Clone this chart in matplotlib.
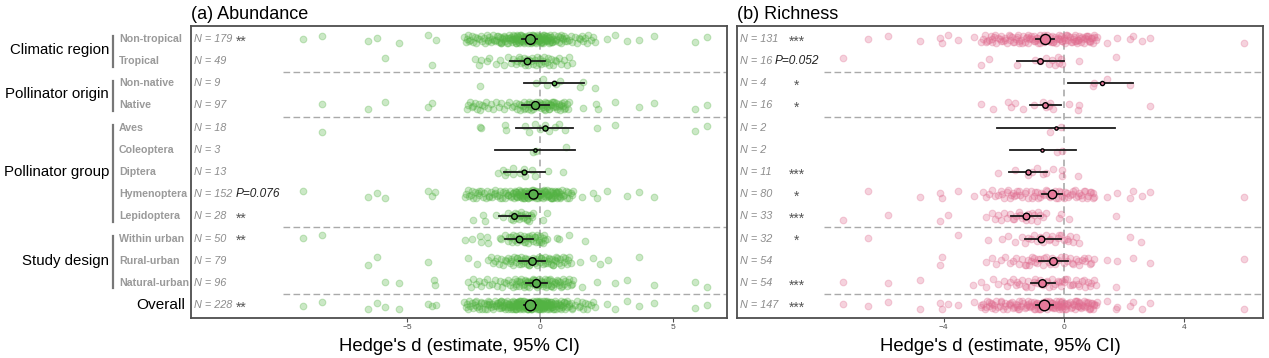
import matplotlib.pyplot as plt
import matplotlib.transforms as mtransforms
import numpy as np

plt.rcParams['font.family'] = ['Liberation Sans', 'DejaVu Sans']

# ---------------------------------------------------------------------------
# Row labels
# ---------------------------------------------------------------------------
groups = ['Climatic region', 'Pollinator origin', 'Pollinator group', 'Study design']
group_sizes = [2, 2, 5, 3]
moderators = ['Non-tropical', 'Tropical', 'Non-native', 'Native', 'Aves', 'Coleoptera',
              'Diptera', 'Hymenoptera', 'Lepidoptera', 'Within urban', 'Rural-urban',
              'Natural-urban', 'Overall']

# ---------------------------------------------------------------------------
# (a) Abundance - individual effect sizes
# ---------------------------------------------------------------------------
ab_nontrop = [-8.92, -8.21, -6.48, -6.14, -5.30, -4.20, -3.91,
              -2.85, -2.8, -2.76, -2.72, -2.68, -2.62, -2.55, -2.5, -2.44, -2.4, -2.35, -2.3, -2.22,
              -2.18, -2.12, -2.05, -2.0,
              -1.95, -1.9, -1.86, -1.8, -1.75, -1.7, -1.66, -1.6, -1.55, -1.5, -1.46, -1.42, -1.38,
              -1.34, -1.3, -1.26, -1.22, -1.18, -1.14, -1.1, -1.06, -1.02, -1.0, -1.97, -1.72, -1.58,
              -1.48, -1.36, -1.24, -1.12, -1.04,
              -0.98, -0.95, -0.92, -0.9, -0.87, -0.85, -0.82, -0.8, -0.78, -0.75, -0.72, -0.7, -0.68,
              -0.65, -0.62, -0.6, -0.58, -0.55, -0.52, -0.5, -0.48, -0.45, -0.42, -0.4, -0.38, -0.35,
              -0.32, -0.3, -0.28, -0.25, -0.22, -0.2, -0.18, -0.15, -0.12, -0.1, -0.08, -0.05, -0.02,
              -0.9, -0.7, -0.55, -0.4, -0.3, -0.2, -0.1, -0.06,
              0.0, 0.03, 0.06, 0.1, 0.13, 0.16, 0.2, 0.23, 0.26, 0.3, 0.33, 0.36, 0.4, 0.43, 0.46, 0.5,
              0.54, 0.58, 0.62, 0.66, 0.7, 0.74, 0.78, 0.82, 0.86, 0.9, 0.94, 0.98, 0.05, 0.15, 0.25,
              0.35, 0.45, 0.6, 0.8,
              1.02, 1.08, 1.15, 1.22, 1.3, 1.38, 1.45, 1.5, 1.57, 1.6, 1.68, 1.75, 1.8, 1.92, 2.0,
              2.07, 2.51, 2.82, 3.26, 3.73, 4.29, 5.83, 6.29,
              -1.45, -1.2, -0.95, -0.85, -0.65, -0.45, -0.35, -0.25, -0.15, -0.05, 0.02, 0.08, 0.12,
              0.18, 0.22, 0.28, 0.38, -0.6, -0.8]
ab_trop = [-5.83, -4.05, -2.44, -2.3, -2.2, -2.0, -1.9, -1.65, -1.5, -1.35, -1.2, -1.1, -1.0,
           -0.9, -0.85, -0.8, -0.7, -0.65, -0.6, -0.55, -0.5, -0.45, -0.4, -0.35, -0.3, -0.25, -0.2,
           -0.15, -0.1, -0.05, 0.0, 0.05, 0.1, 0.15, 0.2, 0.25, 0.3, 0.35, 0.4, 0.5, 0.55, 0.6, 0.7,
           0.8, 0.9, 1.0, 1.1, 1.19, -0.75]
ab_nonnative = [-2.26, -0.15, 0.1, 0.25, 0.6, 0.75, 1.5, 1.6, 2.07]
ab_native = [-8.21, -6.48, -5.83, -4.20, -4.07,
             -2.75, -2.7, -2.62, -2.55, -2.5, -2.45, -2.38, -2.3, -2.25, -2.18, -2.1, -2.02, -1.95,
             -1.85, -1.75, -1.65, -1.55, -1.45, -1.35, -1.25, -1.15, -1.05,
             -0.98, -0.92, -0.86, -0.8, -0.75, -0.7, -0.65, -0.6, -0.55, -0.5, -0.45, -0.4, -0.35,
             -0.3, -0.25, -0.2, -0.15, -0.1, -0.05, 0.0, -0.62, -0.42, -0.32, -0.22, -0.12, -0.02,
             0.05, 0.1, 0.15, 0.2, 0.25, 0.3, 0.35, 0.4, 0.45, 0.5, 0.55, 0.6, 0.65, 0.7, 0.75, 0.8,
             0.85, 0.9, 0.95, 1.0, 1.05, 1.1, 0.12, 0.22, 0.32, 0.42, 0.52, 0.62, 0.72, 0.82, 0.92,
             0.38, 0.18, 0.08, 0.28, 0.48,
             1.60, 2.1, 2.19, 2.82, 3.73, 4.29, 5.83, 6.29]
ab_aves = [-8.21, -2.26, -2.2, -1.32, -1.26, -0.56, -0.4, -0.2, 0.0, 0.19, 0.35, 0.56, 0.7, 0.94,
           2.16, 2.82, 5.83, 6.29]
ab_coleo = [-0.26, -0.15, 0.97]
ab_dipt = [-1.58, -1.39, -1.32, -1.24, -1.03, -1.0, -0.75, -0.6, -0.56, -0.31, -0.2, 0.31, 0.88]
ab_hymen = [-8.92, -6.48, -6.14, -5.83, -4.2, -4.07, -3.95,
            -2.82, -2.78, -2.72, -2.66, -2.6, -2.55, -2.5, -2.45, -2.4, -2.34, -2.28, -2.22, -2.16,
            -2.1, -2.04, -1.98, -1.92, -1.86, -1.8, -1.74, -1.68, -1.62, -1.56, -1.5, -1.44, -1.38,
            -1.32, -1.26, -1.2, -1.14, -1.08, -1.02,
            -0.98, -0.95, -0.92, -0.89, -0.86, -0.83, -0.8, -0.77, -0.74, -0.71, -0.68, -0.65,
            -0.62, -0.59, -0.56, -0.53, -0.5, -0.47, -0.44, -0.41, -0.38, -0.35, -0.32, -0.29,
            -0.26, -0.23, -0.2, -0.17, -0.14, -0.11, -0.08, -0.05, -0.02,
            0.01, 0.04, 0.07, 0.1, 0.13, 0.16, 0.19, 0.22, 0.25, 0.28, 0.31, 0.34, 0.37, 0.4, 0.43,
            0.46, 0.49, 0.52, 0.55, 0.58, 0.61, 0.64, 0.67, 0.7, 0.73, 0.76, 0.8, 0.84, 0.88, 0.92,
            0.96, 1.0, 1.05, 1.1, 1.15, 1.2, 1.25,
            -1.9, -1.7, -1.5, -1.3, -1.1, -0.9, -0.7, -0.5, -0.3, -0.1, 0.0, 0.2, 0.4, 0.6, -0.6,
            -0.4, -0.2, -0.15, -0.25, -0.35, -0.45, -0.55, -0.65, -0.75, -0.85, 0.05, 0.15, 0.3,
            0.35, 0.45, 0.5, 0.65, 0.75, -1.0, -1.2, -2.3,
            1.57, 2.0, 2.13, 2.51, 3.26, 3.73, 4.29]
ab_lepid = [-2.53, -2.15, -2.07, -1.65, -1.38, -1.2, -1.1, -1.05, -1.0, -0.95, -0.9, -0.85, -0.8,
            -0.75, -0.7, -0.65, -0.6, -0.55, -0.5, -0.45, -0.4, -0.35, -0.3, -0.25, -0.5, -0.7,
            0.13, 0.25]
ab_within = [-8.92, -8.21, -2.82, -2.57, -2.26, -2.2, -2.0, -1.95, -1.5, -1.45, -1.3, -1.2, -1.1,
             -1.05, -1.0, -0.95, -0.9, -0.85, -0.8, -0.75, -0.7, -0.65, -0.6, -0.55, -0.5, -0.45,
             -0.4, -0.35, -0.3, -0.25, -0.2, -0.15, -0.1, -0.05, 0.0, 0.05, 0.1, 0.15, 0.2, 0.25,
             -0.4, -0.6, -0.2, 0.1, 0.63, 0.7, 1.10, 1.69, -1.15, -0.05]
ab_rural = [-6.48, -6.14, -4.2, -2.69, -2.38,
            -1.94, -1.85, -1.78, -1.7, -1.62, -1.55, -1.48, -1.4, -1.33, -1.26, -1.2, -1.14, -1.08,
            -1.02, -0.96, -0.9, -0.85, -0.8, -0.75, -0.7, -0.65, -0.6, -0.55, -0.5, -0.45, -0.4,
            -0.35, -0.3, -0.25, -0.2, -0.15, -0.1, -0.05, 0.0, 0.05, 0.1, 0.15, 0.2, 0.25, 0.3,
            0.35, 0.4, 0.45, 0.5, 0.55, 0.6, 0.65, 0.7, 0.75, 0.8, 0.85, 0.9, 0.95, 1.0, 1.05, 1.1,
            1.15, -1.1, -0.88, -0.72, -0.58, -0.42, -0.28, -0.12, 0.02, 0.18, 0.32, 0.48, 0.62,
            1.5, 2.0, 2.26, 2.57, 3.73]
ab_natural = [-5.83, -5.30, -4.0, -3.95,
              -2.69, -2.6, -2.5, -2.4, -2.3, -2.2, -2.1, -2.0, -1.9, -1.8, -1.7, -1.6, -1.5, -1.42,
              -1.35, -1.28, -1.2, -1.13, -1.06, -1.0,
              -0.95, -0.9, -0.85, -0.8, -0.75, -0.7, -0.65, -0.6, -0.55, -0.5, -0.45, -0.4, -0.35,
              -0.3, -0.25, -0.2, -0.15, -0.1, -0.05, 0.0,
              0.05, 0.1, 0.15, 0.2, 0.25, 0.3, 0.35, 0.4, 0.45, 0.5, 0.55, 0.6, 0.65, 0.7, 0.75, 0.8,
              0.85, 0.9, 0.95, 1.0, 1.05, 1.1, 1.15, 1.2, 1.25,
              -0.92, -0.78, -0.62, -0.48, -0.32, -0.18, -0.08, 0.08, 0.22, 0.38, 0.52, 0.68, 0.82,
              -0.42, -0.28, -0.12, 0.12, 0.28, 0.42, -0.58,
              1.57, 2.13, 2.82, 3.26, 4.29, 5.83, 6.29]
# overall = every study, i.e. both climatic regions together
ab_overall = ab_nontrop + ab_trop

ab_est = [-0.38, -0.48, 0.53, -0.19, 0.19, -0.19, -0.59, -0.25, -0.96, -0.80, -0.31, -0.15, -0.38]
ab_lo = [-0.66, -1.13, -0.60, -0.69, -0.90, -1.69, -1.35, -0.54, -1.54, -1.32, -0.78, -0.53, -0.62]
ab_hi = [-0.12, 0.19, 1.67, 0.35, 1.25, 1.30, 0.19, 0.03, -0.38, -0.28, 0.19, 0.25, -0.14]
ab_n = [179, 49, 9, 97, 18, 3, 13, 152, 28, 50, 79, 96, 228]
ab_sig = ['**', '', '', '', '', '', '', 'P=0.076', '**', '**', '', '', '**']

# ---------------------------------------------------------------------------
# (b) Richness
# ---------------------------------------------------------------------------
ri_nontrop = [-6.52, -5.84, -4.77, -4.12, -4.06, -3.84, -3.53, -2.98,
              -2.74, -2.68, -2.62, -2.56, -2.5, -2.44, -2.38, -2.32, -2.26, -2.2, -2.14, -2.08,
              -2.02, -1.96, -1.9, -1.84, -1.78, -1.72, -1.66, -1.6, -1.54, -1.48, -1.42, -1.36,
              -1.3, -1.24, -1.18, -1.12, -1.06, -1.0,
              -0.95, -0.9, -0.85, -0.8, -0.75, -0.7, -0.65, -0.6, -0.55, -0.5, -0.45, -0.4, -0.35,
              -0.3, -0.25, -0.2, -0.15, -0.1, -0.05, 0.0,
              0.05, 0.1, 0.15, 0.2, 0.25, 0.3, 0.35, 0.4, 0.45, 0.5, 0.55, 0.6, 0.65, 0.7, 0.75, 0.8,
              0.85, 0.9, 0.95, 1.0, 1.05, 1.1,
              -2.6, -2.4, -2.3, -2.1, -1.95, -1.8, -1.7, -1.55, -1.4, -1.25, -1.15, -1.08, -0.98,
              -0.88, -0.78, -0.68, -0.58, -0.48, -0.38, -0.28, -0.18, -0.08, 0.02, 0.12, 0.22,
              0.32, 0.42, 0.52, 0.62, 0.72, 0.82, 0.92, -1.5, -1.2, -0.92, -0.62, -0.42, -0.12,
              0.08, 0.38, 0.48, 0.78, 0.88, 1.0,
              1.42, 1.75, 2.19, 2.30, 2.58, 2.86, 5.98]
ri_trop = [-7.35, -2.74, -2.49, -1.57, -0.95, -0.8, -0.6, -0.5, -0.4, -0.3, -0.2, -0.15, -0.1,
           -0.05, 0.51, 1.72]
ri_nonnative = [0.95, 1.0, 1.42, 2.19]
ri_native = [-2.74, -2.37, -1.85, -1.75, -1.62, -1.35, -1.0, -0.7, -0.6, -0.5, -0.45, -0.35, 0.17,
             0.45, 0.5, 2.86]
ri_aves = [-0.45, -0.1]
ri_coleo = [-0.24, -0.08]
ri_dipt = [-2.18, -1.63, -1.2, -1.05, -0.9, -0.7, -0.6, -0.35, -0.08, -0.05, 0.45]
ri_hymen = [-6.52, -4.77, -4.12, -4.06, -3.53, -2.98,
            -2.7, -2.6, -2.5, -2.4, -2.3, -2.2, -2.1, -2.0, -1.9, -1.8, -1.7, -1.6, -1.5, -1.4,
            -1.3, -1.2, -1.1, -1.0, -0.9, -0.8, -0.7, -0.6, -0.5, -0.4, -0.3, -0.2, -0.1, 0.0, 0.1,
            0.2, 0.3, 0.4, 0.5, 0.6, 0.7, 0.8, 0.9, 1.0,
            -2.05, -1.85, -1.65, -1.45, -1.25, -1.05, -0.95, -0.85, -0.75, -0.65, -0.55, -0.45,
            -0.35, -0.25, -0.15, -0.05, 0.05, 0.15, 0.25, 0.35, 0.45, 0.55, 0.65, 0.75, 0.85, 0.95,
            0.98, -1.75, -1.55,
            1.42, 1.75, 2.19, 2.30, 2.58, 2.86, 5.98]
ri_lepid = [-7.35, -5.84, -4.12, -3.84, -2.59, -2.4, -2.3, -2.2, -2.1, -2.0, -1.9, -1.8, -1.7,
            -1.6, -1.5, -1.4, -1.3, -1.2, -1.1, -1.0, -0.9, -0.8, -0.7, -0.6, -1.65, -1.45, -1.25,
            -1.05, -0.16, -0.1, 0.17, 1.72, -0.85]
ri_within = [-6.52, -3.53, -2.51, -2.07, -1.85, -1.63, -1.4, -1.3, -1.2, -1.1, -1.0, -0.9, -0.8,
             -0.7, -0.6, -0.5, -0.4, -0.3, -0.2, -0.1, 0.0, 0.1, 0.2, 0.3, 0.4, 0.5, -0.75, -0.45,
             -0.15, 0.15, 2.19, 2.56]
ri_rural = [-4.12, -4.06, -2.6,
            -2.4, -2.25, -2.1, -1.95, -1.8, -1.7, -1.6, -1.5, -1.4, -1.3, -1.2, -1.1, -1.0, -0.9,
            -0.8, -0.7, -0.6, -0.5, -0.4, -0.3, -0.2, -0.1, 0.0, 0.1, 0.2, 0.3, 0.4, 0.5, 0.6, 0.7,
            0.8, 0.9, 1.0, -1.25, -1.05, -0.95, -0.65, -0.45, -0.25, 0.05, 0.25, 0.45, 0.65, 0.85,
            -0.85, -1.15,
            1.42, 1.75, 2.30, 2.86, 5.98]
ri_natural = [-7.35, -5.84, -4.77, -3.01,
              -2.74, -2.6, -2.37, -2.2, -2.0, -1.9, -1.8, -1.7, -1.6, -1.5, -1.4, -1.3, -1.2, -1.1,
              -1.0, -0.9, -0.8, -0.7, -0.6, -0.5, -0.4, -0.3, -0.2, -0.1, 0.0, 0.1, 0.2, 0.3, 0.4,
              0.5, 0.6, 0.7, 0.8, 0.9, 1.0, 1.05, -1.55, -1.25, -0.95, -0.75, -0.55, -0.35, -0.15,
              0.05, 0.25, 0.45, 0.65, 0.85, -0.05,
              1.72]
ri_overall = ri_nontrop + ri_trop

ri_est = [-0.63, -0.79, 1.25, -0.63, -0.28, -0.74, -1.18, -0.41, -1.27, -0.76, -0.35, -0.74, -0.65]
ri_lo = [-0.94, -1.57, 0.14, -1.13, -2.24, -1.79, -1.82, -0.74, -1.76, -1.30, -0.83, -1.10, -0.94]
ri_hi = [-0.32, 0.0, 2.30, -0.11, 1.69, 0.39, -0.55, -0.06, -0.76, -0.11, 0.14, -0.30, -0.35]
ri_n = [131, 16, 4, 16, 2, 2, 11, 80, 33, 32, 54, 54, 147]
ri_sig = ['***', 'P=0.052', '*', '*', '', '', '***', '*', '***', '*', '', '***', '***']

ab_points = [ab_nontrop, ab_trop, ab_nonnative, ab_native, ab_aves, ab_coleo, ab_dipt, ab_hymen,
             ab_lepid, ab_within, ab_rural, ab_natural, ab_overall]
ri_points = [ri_nontrop, ri_trop, ri_nonnative, ri_native, ri_aves, ri_coleo, ri_dipt, ri_hymen,
             ri_lepid, ri_within, ri_rural, ri_natural, ri_overall]

# fixed vertical jitter pattern (row units)
JIT = 0.72 * np.array([0.02, -0.19, 0.15, -0.08, 0.24, -0.23, 0.09, -0.14, 0.19, -0.03, -0.25,
                       0.12, 0.05, -0.17, 0.22, -0.11, 0.27, -0.06])


def draw_panel(ax, points, est, lo, hi, ns, sig, col, mcol, xlim, ticks, sep_x0, sig_x, sig_ha,
               title):
    nrow = len(moderators)
    ax.set_xlim(*xlim)
    ax.set_ylim(nrow - 0.415, -0.586)
    ax.axvline(0, color='#aaaaaa', lw=1.2, ls=(0, (4, 3)), zorder=1)
    # separators between moderator groups
    edges = np.cumsum(group_sizes)
    for e in edges:
        ax.plot([sep_x0, xlim[1] + 1], [e - 0.5, e - 0.5], color='#aaaaaa', lw=1.0,
                ls=(0, (4.8, 2.4)), zorder=1, clip_on=True)

    nmin, nmax = min(ns), max(ns)
    tr = mtransforms.blended_transform_factory(ax.transAxes, ax.transData)
    for i, vals in enumerate(points):
        jit = np.resize(np.roll(JIT, 5 * i), len(vals))
        ax.scatter(vals, i + jit, s=23, color=col, edgecolors=col, linewidths=0.8, alpha=0.3,
                   zorder=2)
        ax.plot([lo[i], hi[i]], [i, i], color='#1a1a1a', lw=1.3, zorder=3)
        d = 3.3 + 7.2 * np.sqrt((ns[i] - nmin) / (nmax - nmin))
        ax.plot(est[i], i, 'o', ms=d * 0.72, mfc=mcol, mec='black', mew=1.0, zorder=4)
        ax.text(0.006, i, f'N = {ns[i]}', transform=tr, ha='left', va='center', fontsize=7.8,
                style='italic', color='#8c8c8c')
        if sig[i].startswith('P'):
            ax.text(sig_x, i, sig[i], transform=tr, ha=sig_ha, va='center', fontsize=8.6,
                    style='italic', color='#222222')
        elif sig[i]:
            ax.text(sig_x, i + 0.12, sig[i], transform=tr, ha=sig_ha, va='center', fontsize=10,
                    color='#555555')

    ax.set_yticks([])
    ax.set_xticks(ticks)
    ax.tick_params(axis='x', length=3, width=0.8, color='#4d4d4d', labelcolor='#4d4d4d',
                   labelsize=6, pad=1.5)
    for s in ax.spines.values():
        s.set_color('#4d4d4d')
        s.set_linewidth(1.3)
    ax.set_xlabel("Hedge's d (estimate, 95% CI)", fontsize=13.3, labelpad=5)
    ax.set_title(title, loc='left', fontsize=13, pad=5)


fig = plt.figure(figsize=(12.69, 3.58), dpi=100)
ax_a = fig.add_axes([191 / 1269, 0.1117, 536 / 1269, 0.8157])
ax_b = fig.add_axes([737 / 1269, 0.1117, 526 / 1269, 0.8157])

draw_panel(ax_a, ab_points, ab_est, ab_lo, ab_hi, ab_n, ab_sig, '#53B343', '#5AB04E',
           (-13.12, 7.03), [-5, 0, 5], -9.66, 0.083, 'left', '(a) Abundance')
draw_panel(ax_b, ri_points, ri_est, ri_lo, ri_hi, ri_n, ri_sig, '#E06C8F', '#E8799A',
           (-10.86, 6.61), [-4, 0, 4], -7.98, 0.114, 'center', '(b) Richness')

# left-hand row labels
trl = mtransforms.blended_transform_factory(fig.transFigure, ax_a.transData)
row = 0
for g, k in zip(groups, group_sizes):
    ax_a.text(109 / 1269, row + (k - 1) / 2, g, transform=trl, ha='right', va='center',
              fontsize=10.8)
    ax_a.plot([113 / 1269, 113 / 1269], [row - 0.12, row + k - 1 + 0.25], transform=trl,
              color='#777777', lw=1.6, clip_on=False)
    for j in range(k):
        ax_a.text(119 / 1269, row + j, moderators[row + j], transform=trl, ha='left',
                  va='center', fontsize=7.7, fontweight='bold', color='#9a9a9a')
    row += k
ax_a.text(185 / 1269, row, moderators[row], transform=trl, ha='right', va='center',
          fontsize=11.1)

fig.savefig('out.png', dpi=100)
